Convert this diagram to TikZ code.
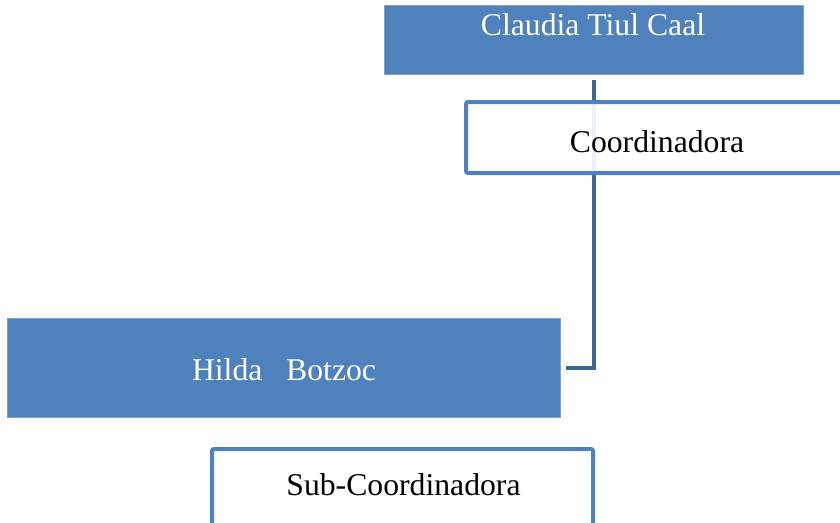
\documentclass[tikz,border=0pt]{standalone}
\usepackage{fontspec}
\setmainfont{Liberation Serif}
\definecolor{boxblue}{HTML}{4F81BD}
\definecolor{edgeblue}{HTML}{7FA2CE}
\definecolor{connblue}{HTML}{3D6698}
\tikzset{
  filledbox/.style={rectangle, fill=boxblue, draw=edgeblue, line width=0.8pt, inner sep=0pt},
  outlinebox/.style={rectangle, draw=boxblue, line width=4pt, fill=white, fill opacity=0.9, rounded corners=2pt, inner sep=0pt},
  wtext/.style={anchor=base, text=white, inner sep=0pt, font=\fontsize{31.7}{38}\selectfont},
  btext/.style={anchor=base, text=black, inner sep=0pt, font=\fontsize{31.7}{38}\selectfont},
  conn/.style={draw=connblue, line width=4pt}
}
\begin{document}
\begin{tikzpicture}[x=1pt,y=-1pt]
\useasboundingbox (0,0) rectangle (840,522);
\fill[white] (0,0) rectangle (840,522);
% filled boxes
\node[filledbox, minimum width=419pt, minimum height=69pt] (claudia) at (593.5,39.5) {};
\node[filledbox, minimum width=553pt, minimum height=99pt] (hilda) at (283.5,367.5) {};
% connector
\draw[conn] ([yshift=-6pt]claudia.south) |- ([xshift=6pt]hilda.east);
% outline boxes
\node[outlinebox, minimum width=384pt, minimum height=71pt] (coord) at (658,137.5) {};
\node[outlinebox, minimum width=381pt, minimum height=76pt] (sub) at (402.5,487) {};
% texts
\node[wtext] (claudiaT) at (593,35) {Claudia Tiul Caal};
\node[btext] (coordT) at (657,152) {Coordinadora};
\node[wtext] (hildaT) at (284,380) {Hilda~~~Botzoc};
\node[btext] (subT) at (403.5,495) {Sub-Coordinadora};
\end{tikzpicture}
\end{document}
